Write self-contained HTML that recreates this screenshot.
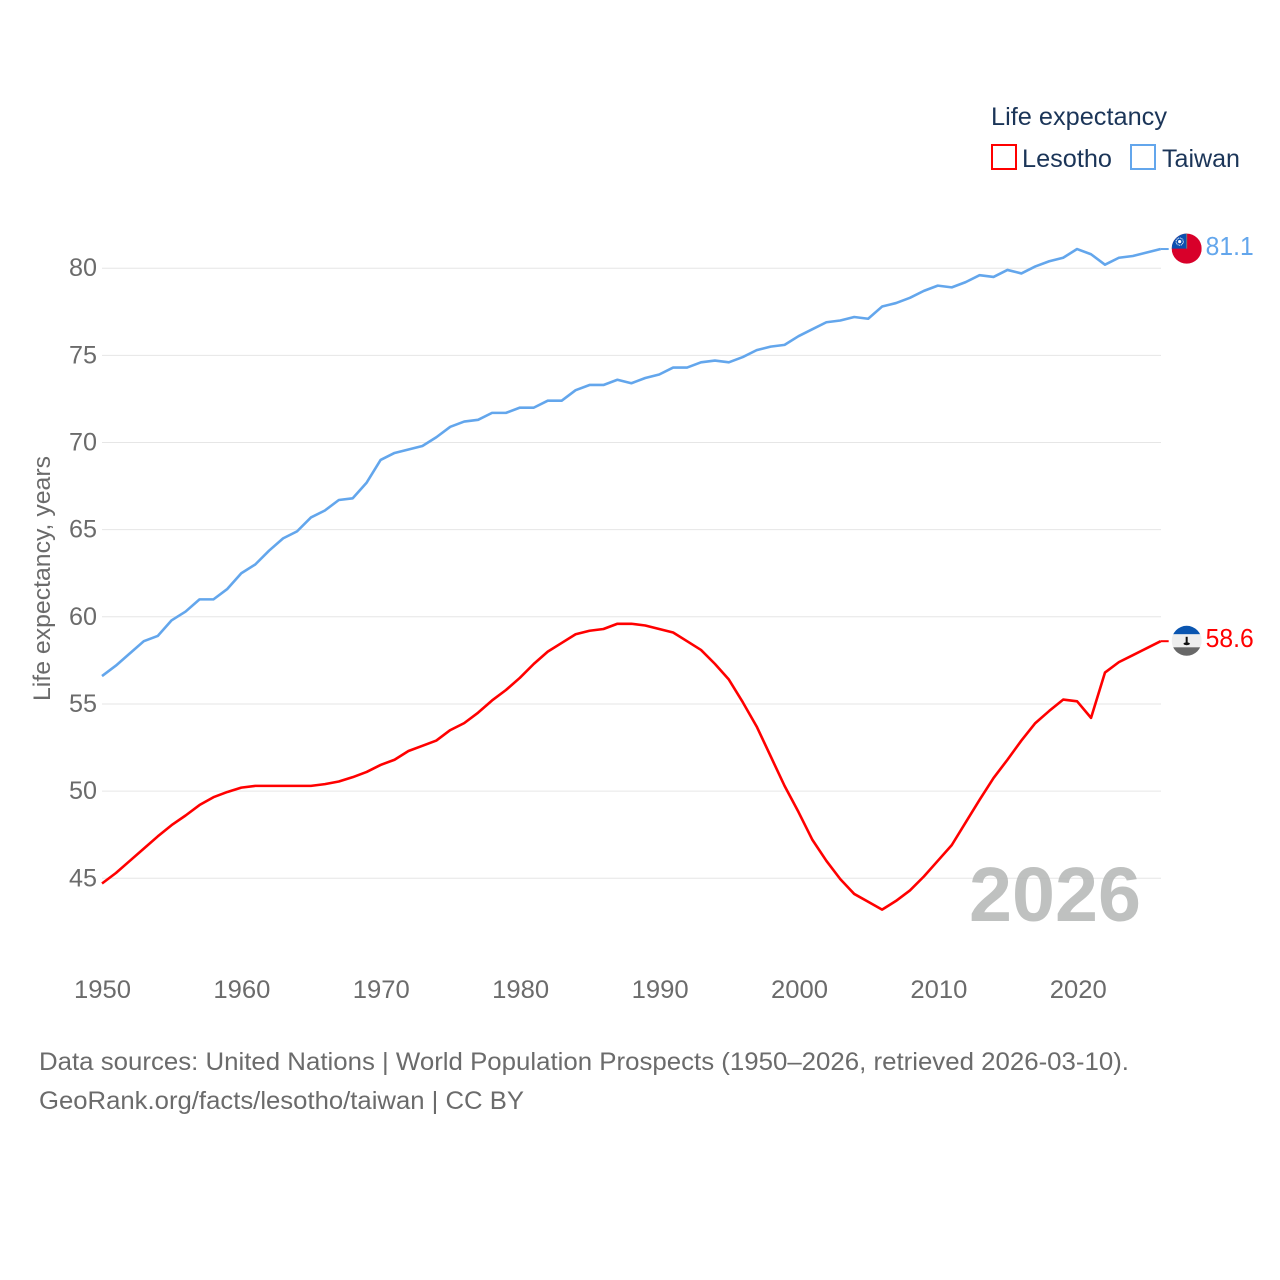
<!DOCTYPE html>
<html lang="en">
<head>
<meta charset="utf-8">
<title>Life expectancy: Lesotho and Taiwan</title>
<style>
html,body{margin:0;padding:0;background:#fff;}
svg{display:block;}
text{font-family:"Liberation Sans",sans-serif;}
</style>
</head>
<body>
<svg id="chart" xmlns="http://www.w3.org/2000/svg" width="1280" height="1280" viewBox="0 0 1280 1280">
  <rect width="1280" height="1280" fill="#fff"/>
  <g id="grid"></g>
  <g id="yticks"></g>
  <g id="xticks"></g>
  <text transform="translate(50,701) rotate(-90)" font-size="24" fill="#6b6b6b" textLength="245" lengthAdjust="spacingAndGlyphs">Life expectancy, years</text>
  <text x="969" y="921" font-size="77" font-weight="700" fill="#b4b6b5" fill-opacity="0.85" textLength="172" lengthAdjust="spacingAndGlyphs">2026</text>
  <g id="series"></g>

  <g id="flag-taiwan">
    <clipPath id="clip-tw"><circle cx="0" cy="0" r="15"/></clipPath>
    <g clip-path="url(#clip-tw)">
      <rect x="-15" y="-16" width="30" height="32" fill="#d8002a"/>
      <rect x="-15" y="-16" width="15" height="16" fill="#0b4fb0"/>
      <rect x="-0.5" y="-16" width="1" height="16" fill="#777"/>
      <circle cx="-7" cy="-7" r="3.6" fill="none" stroke="#fff" stroke-width="1" stroke-dasharray="1 .7"/>
      <circle cx="-7" cy="-7" r="1.6" fill="#fff"/>
    </g>
  </g>
  <g id="flag-lesotho">
    <clipPath id="clip-ls"><circle cx="0" cy="0" r="15"/></clipPath>
    <g clip-path="url(#clip-ls)">
      <rect x="-15" y="-16" width="30" height="9.5" fill="#0a55b0"/>
      <rect x="-15" y="-6.5" width="30" height="13" fill="#eeeeee"/>
      <rect x="-15" y="6.5" width="30" height="10" fill="#686868"/>
      <rect x="-1" y="-4" width="2" height="6" fill="#111"/>
      <ellipse cx="0" cy="3" rx="3.2" ry="1.4" fill="#111"/>
    </g>
  </g>

  <g>
    <text x="991" y="125" font-size="25" fill="#1b3558" textLength="176" lengthAdjust="spacingAndGlyphs">Life expectancy</text>
    <g>
      <rect x="992" y="145" width="24" height="24" fill="none" stroke="#ff0000" stroke-width="2"/>
      <text x="1022" y="167" font-size="25" fill="#1b3558" textLength="90" lengthAdjust="spacingAndGlyphs">Lesotho</text>
    </g>
    <g>
      <rect x="1131" y="145" width="24" height="24" fill="none" stroke="#63a6ec" stroke-width="2"/>
      <text x="1162" y="167" font-size="25" fill="#1b3558" textLength="78" lengthAdjust="spacingAndGlyphs">Taiwan</text>
    </g>
  </g>

  <g>
    <text x="39" y="1070" font-size="25" fill="#6b6b6b" textLength="1090" lengthAdjust="spacingAndGlyphs">Data sources: United Nations | World Population Prospects (1950–2026, retrieved 2026-03-10).</text>
    <text x="39" y="1109" font-size="25" fill="#6b6b6b" textLength="485" lengthAdjust="spacingAndGlyphs">GeoRank.org/facts/lesotho/taiwan | CC BY</text>
  </g>
</svg>
<script>
const years = [1950,1951,1952,1953,1954,1955,1956,1957,1958,1959,1960,1961,1962,1963,1964,1965,1966,1967,1968,1969,1970,1971,1972,1973,1974,1975,1976,1977,1978,1979,1980,1981,1982,1983,1984,1985,1986,1987,1988,1989,1990,1991,1992,1993,1994,1995,1996,1997,1998,1999,2000,2001,2002,2003,2004,2005,2006,2007,2008,2009,2010,2011,2012,2013,2014,2015,2016,2017,2018,2019,2020,2021,2022,2023,2024,2025,2026];
const taiwanValues = [56.6,57.2,57.9,58.6,58.9,59.8,60.3,61.0,61.0,61.6,62.5,63.0,63.8,64.5,64.9,65.7,66.1,66.7,66.8,67.7,69.0,69.4,69.6,69.8,70.3,70.9,71.2,71.3,71.7,71.7,72.0,72.0,72.4,72.4,73.0,73.3,73.3,73.6,73.4,73.7,73.9,74.3,74.3,74.6,74.7,74.6,74.9,75.3,75.5,75.6,76.1,76.5,76.9,77.0,77.2,77.1,77.8,78.0,78.3,78.7,79.0,78.9,79.2,79.6,79.5,79.9,79.7,80.1,80.4,80.6,81.1,80.8,80.2,80.6,80.7,80.9,81.1];
const lesothoValues = [44.7,45.3,46.0,46.7,47.4,48.05,48.6,49.2,49.65,49.95,50.2,50.3,50.3,50.3,50.3,50.3,50.4,50.55,50.8,51.1,51.5,51.8,52.3,52.6,52.9,53.5,53.9,54.5,55.2,55.8,56.5,57.3,58.0,58.5,59.0,59.2,59.3,59.6,59.6,59.5,59.3,59.1,58.6,58.1,57.3,56.4,55.1,53.7,52.0,50.3,48.8,47.2,46.0,44.95,44.1,43.65,43.2,43.7,44.3,45.1,46.0,46.9,48.2,49.5,50.75,51.8,52.9,53.9,54.6,55.25,55.15,54.2,56.8,57.4,57.8,58.2,58.6];
const yTickLabels = [45,50,55,60,65,70,75,80];
const xTickLabels = [1950,1960,1970,1980,1990,2000,2010,2020];

const NS = 'http://www.w3.org/2000/svg';
function xScale(year) { return 102 + (year - 1950) * 13.93; }
function xLabelScale(year) { return 102.5 + (year - 1950) * 13.94; }
function yScale(value) { return 268.2 + (80 - value) * 17.43; }
function make(tag, attrs, parent) {
  const el = document.createElementNS(NS, tag);
  for (const k in attrs) el.setAttribute(k, attrs[k]);
  parent.appendChild(el);
  return el;
}
const gridGroup = document.getElementById('grid');
const yGroup = document.getElementById('yticks');
const xGroup = document.getElementById('xticks');
const seriesGroup = document.getElementById('series');

yTickLabels.forEach(function (v) {
  const line = make('line', {x1: 102, x2: 1161, y1: yScale(v), y2: yScale(v), stroke: '#e6e6e6', 'stroke-width': 1}, gridGroup);
  
  
  const t = make('text', {x: 69, y: yScale(v) + 8, 'font-size': 25, fill: '#6b6b6b', textLength: 28, lengthAdjust: 'spacingAndGlyphs'}, yGroup);
  
  
  t.textContent = v;
});
xTickLabels.forEach(function (v) {
  const t = make('text', {x: xLabelScale(v) - 28.5, y: 998, 'font-size': 25, fill: '#6b6b6b', textLength: 57, lengthAdjust: 'spacingAndGlyphs'}, xGroup);
  
  
  t.textContent = v;
});

function drawSeries(name, values, color, flagId) {
  const last = values.length - 1;
  const pts = values.map(function (v, i) { return xScale(years[i]).toFixed(2) + ',' + yScale(v).toFixed(2); });
  const line = make('polyline', {points: pts.join(' '), fill: 'none', stroke: color, 'stroke-width': 2.6, 'stroke-linejoin': 'round'}, seriesGroup);
  
  
  const endY = yScale(values[last]);
  const endX = xScale(years[last]);
  const lead = make('line', {x1: endX, x2: endX + 8, y1: endY, y2: endY, stroke: color, 'stroke-width': 2}, seriesGroup);
  
  
  document.getElementById(flagId).setAttribute('transform', 'translate(' + (endX + 26) + ',' + (endY - 0.4) + ')');
  const label = make('text', {x: endX + 45, y: endY + 6, 'font-size': 26, fill: color, textLength: 48, lengthAdjust: 'spacingAndGlyphs'}, seriesGroup);
  
  
  label.textContent = values[last].toFixed(1);
}
drawSeries('taiwan', taiwanValues, '#63a6ec', 'flag-taiwan');
drawSeries('lesotho', lesothoValues, '#ff0000', 'flag-lesotho');
</script>
</body>
</html>
